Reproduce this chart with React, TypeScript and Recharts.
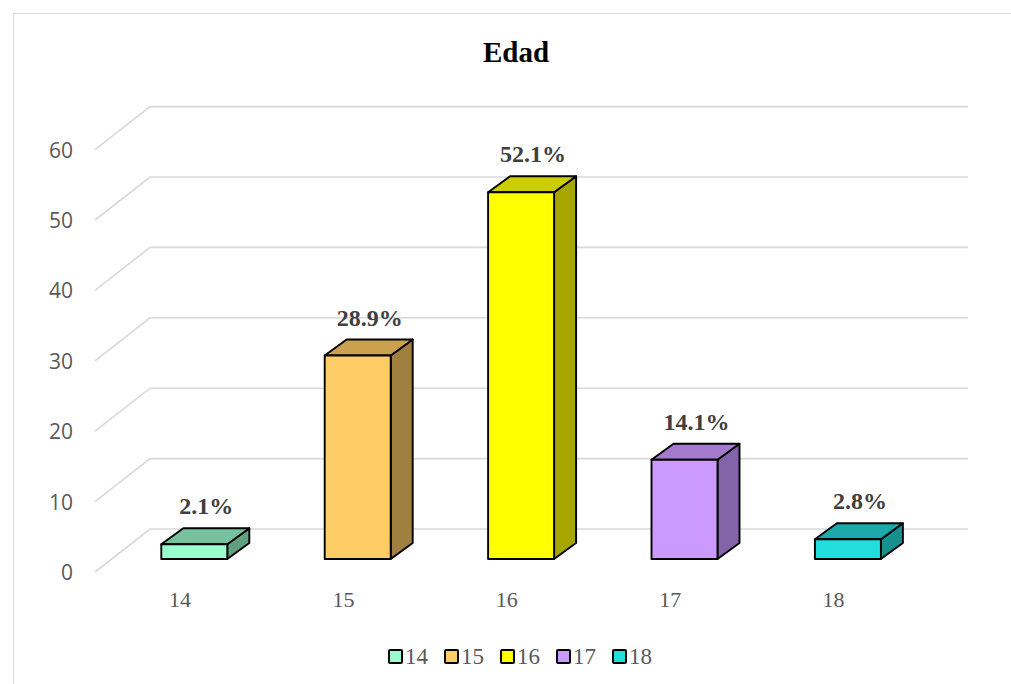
import React from 'react';
import { BarChart, Bar, XAxis, YAxis, CartesianGrid, Cell, LabelList } from 'recharts';

const categories = ['14', '15', '16', '17', '18'];
const percentages = [2.1, 28.9, 52.1, 14.1, 2.8];
const yTicks = [0, 10, 20, 30, 40, 50, 60];

const frontColors = ['#99FFCC', '#FFCC66', '#FFFF00', '#CC99FF', '#22DDDD'];
const topColors = ['#77C29E', '#C9A150', '#CCCC00', '#A47ACC', '#1BA9A9'];
const sideColors = ['#5FA07F', '#A07F40', '#A6A600', '#8464A8', '#168F8F'];

const data = categories.map((name, i) => ({ name, value: percentages[i] }));

// depth of the fake 3D boxes
const DX = 22;
const DY = 16;

const SERIF = '"Liberation Serif", "Times New Roman", serif';
const GRID = '#d9d9d9';

// ── 3D box bar ───────────────────────────────────────────────────────────────
function Box3D(props: any) {
  const { x, y, width, height, index } = props;
  const stroke = { stroke: '#000', strokeWidth: 1.9, strokeLinejoin: 'round' as const };
  const top = `${x},${y} ${x + DX},${y - DY} ${x + width + DX},${y - DY} ${x + width},${y}`;
  const side = `${x + width},${y} ${x + width + DX},${y - DY} ${x + width + DX},${y + height - DY} ${x + width},${y + height}`;
  return (
    <g>
      <polygon points={side} fill={sideColors[index]} {...stroke} />
      <polygon points={top} fill={topColors[index]} {...stroke} />
      <rect x={x} y={y} width={width} height={height} fill={frontColors[index]} {...stroke} />
    </g>
  );
}

// back wall + floor perspective grid line for each y tick
function GridLine(p: any) {
  const y = p.y1;
  return (
    <path
      key={`g-${y}`}
      d={`M95,${y + 13} L150,${y - 30} L968,${y - 30}`}
      fill="none"
      stroke={GRID}
      strokeWidth={1.6}
    />
  );
}

function YTick(p: any) {
  return (
    <text x={73} y={p.y + 13} textAnchor="end" dominantBaseline="central"
      fontFamily='"Open Sans", sans-serif' fontSize={21} fill="#595959">
      {p.payload.value}
    </text>
  );
}

function XTick(p: any) {
  return (
    <text x={p.x - 14} y={p.y + 32} textAnchor="middle" dominantBaseline="central"
      fontFamily={SERIF} fontSize={22} fill="#595959">
      {p.payload.value}
    </text>
  );
}

function ValueLabel(p: any) {
  const { x, y, width, value } = p;
  return (
    <text x={x + width / 2 + 12} y={y - 38} textAnchor="middle" dominantBaseline="central"
      fontFamily={SERIF} fontWeight="bold" fontSize={24} fill="#404040">
      {`${value}%`}
    </text>
  );
}

export default function App() {
  return (
    <div style={{ position: 'absolute', left: 0, top: 0, width: 1011, height: 684, background: '#fff' }}>
      <div style={{
        position: 'absolute', left: 13, top: 13, width: 1010, height: 680,
        border: `1px solid ${GRID}`, boxSizing: 'border-box',
      }} />
      <div style={{
        position: 'absolute', left: 0, width: 1032, top: 38, textAlign: 'center',
        fontFamily: SERIF, fontWeight: 'bold', fontSize: 29, lineHeight: '29px', color: '#000',
      }}>
        Edad
      </div>
      <div style={{ position: 'absolute', left: 0, top: 0 }}>
        <BarChart width={1011} height={684} data={data}
          margin={{ top: 136.6, right: 81.7, bottom: 95, left: 62.3 }}>
          <CartesianGrid vertical={false} horizontal={GridLine} />
          <YAxis width={50} domain={[0, 60]} ticks={yTicks} axisLine={false} tickLine={false}
            tick={<YTick />} interval={0} />
          <XAxis dataKey="name" height={30} axisLine={false} tickLine={false} tick={<XTick />} interval={0} />
          <Bar dataKey="value" barSize={66} shape={<Box3D />} isAnimationActive={false}>
            {data.map((d, i) => <Cell key={d.name} fill={frontColors[i]} />)}
            <LabelList dataKey="value" content={<ValueLabel />} />
          </Bar>
        </BarChart>
      </div>
      <div style={{
        position: 'absolute', left: 388, top: 645, display: 'flex', alignItems: 'center',
        fontFamily: SERIF, fontSize: 23, color: '#595959', lineHeight: '23px',
      }}>
        {categories.map((c, i) => (
          <div key={c} style={{ display: 'flex', alignItems: 'center', width: 56 }}>
            <span style={{
              width: 11, height: 11, background: frontColors[i], border: '2px solid #000',
              borderRadius: 2, marginRight: 2, display: 'inline-block',
            }} />
            <span>{c}</span>
          </div>
        ))}
      </div>
    </div>
  );
}
